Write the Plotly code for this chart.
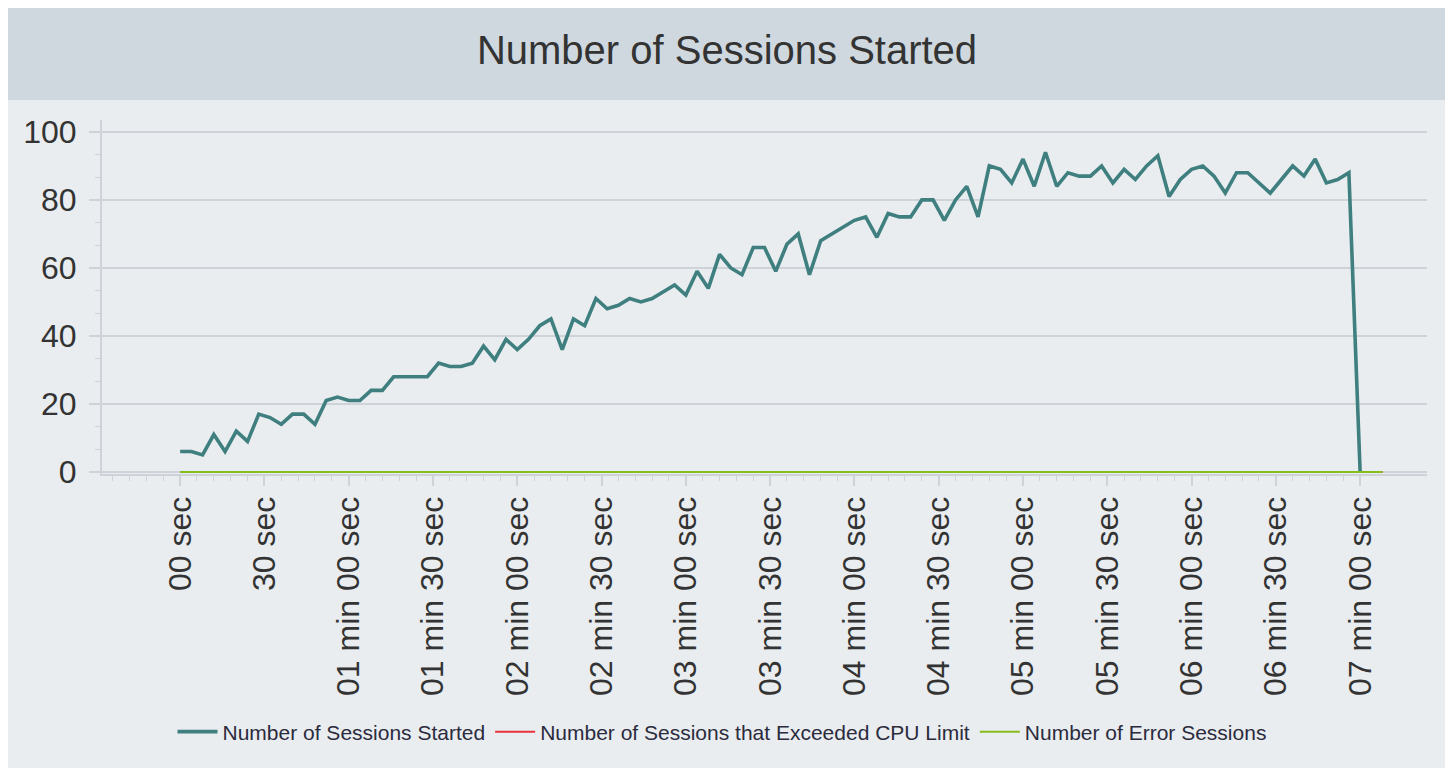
import plotly.graph_objects as go

# ---------------- data ----------------
time_sec = [0, 4, 8, 12, 16, 20, 24, 28, 32, 36, 40, 44, 48, 52, 56, 60, 64, 68, 72, 76,
            80, 84, 88, 92, 96, 100, 104, 108, 112, 116, 120, 124, 128, 132, 136, 140, 144, 148, 152, 156,
            160, 164, 168, 172, 176, 180, 184, 188, 192, 196, 200, 204, 208, 212, 216, 220, 224, 228, 232, 236,
            240, 244, 248, 252, 256, 260, 264, 268, 272, 276, 280, 284, 288, 292, 296, 300, 304, 308, 312, 316,
            320, 324, 328, 332, 336, 340, 344, 348, 352, 356, 360, 364, 368, 372, 376, 380, 384, 388, 392, 396,
            400, 404, 408, 412, 416, 420]

sessions_started = [6, 6, 5, 11, 6, 12, 9, 17, 16, 14, 17, 17, 14, 21, 22, 21, 21, 24, 24, 28,
                    28, 28, 28, 32, 31, 31, 32, 37, 33, 39, 36, 39, 43, 45, 36, 45, 43, 51, 48, 49,
                    51, 50, 51, 53, 55, 52, 59, 54, 64, 60, 58, 66, 66, 59, 67, 70, 58, 68, 70, 72,
                    74, 75, 69, 76, 75, 75, 80, 80, 74, 80, 84, 75, 90, 89, 85, 92, 84, 94, 84, 88,
                    87, 87, 90, 85, 89, 86, 90, 93, 81, 86, 89, 90, 87, 82, 88, 88, 85, 82, 86, 90,
                    87, 92, 85, 86, 88, 0]

other_time_sec = [0, 4, 8, 12, 16, 20, 24, 28, 32, 36, 40, 44, 48, 52, 56, 60, 64, 68, 72, 76,
                  80, 84, 88, 92, 96, 100, 104, 108, 112, 116, 120, 124, 128, 132, 136, 140, 144, 148, 152, 156,
                  160, 164, 168, 172, 176, 180, 184, 188, 192, 196, 200, 204, 208, 212, 216, 220, 224, 228, 232, 236,
                  240, 244, 248, 252, 256, 260, 264, 268, 272, 276, 280, 284, 288, 292, 296, 300, 304, 308, 312, 316,
                  320, 324, 328, 332, 336, 340, 344, 348, 352, 356, 360, 364, 368, 372, 376, 380, 384, 388, 392, 396,
                  400, 404, 408, 412, 416, 420, 424, 428]

cpu_exceeded = [0, 0, 0, 0, 0, 0, 0, 0, 0, 0, 0, 0, 0, 0, 0, 0, 0, 0, 0, 0,
                0, 0, 0, 0, 0, 0, 0, 0, 0, 0, 0, 0, 0, 0, 0, 0, 0, 0, 0, 0,
                0, 0, 0, 0, 0, 0, 0, 0, 0, 0, 0, 0, 0, 0, 0, 0, 0, 0, 0, 0,
                0, 0, 0, 0, 0, 0, 0, 0, 0, 0, 0, 0, 0, 0, 0, 0, 0, 0, 0, 0,
                0, 0, 0, 0, 0, 0, 0, 0, 0, 0, 0, 0, 0, 0, 0, 0, 0, 0, 0, 0,
                0, 0, 0, 0, 0, 0, 0, 0]

error_sessions = [0, 0, 0, 0, 0, 0, 0, 0, 0, 0, 0, 0, 0, 0, 0, 0, 0, 0, 0, 0,
                  0, 0, 0, 0, 0, 0, 0, 0, 0, 0, 0, 0, 0, 0, 0, 0, 0, 0, 0, 0,
                  0, 0, 0, 0, 0, 0, 0, 0, 0, 0, 0, 0, 0, 0, 0, 0, 0, 0, 0, 0,
                  0, 0, 0, 0, 0, 0, 0, 0, 0, 0, 0, 0, 0, 0, 0, 0, 0, 0, 0, 0,
                  0, 0, 0, 0, 0, 0, 0, 0, 0, 0, 0, 0, 0, 0, 0, 0, 0, 0, 0, 0,
                  0, 0, 0, 0, 0, 0, 0, 0]

tick_values = [0, 30, 60, 90, 120, 150, 180, 210, 240, 270, 300, 330, 360, 390, 420]
tick_labels = ["00 sec", "30 sec", "01 min 00 sec", "01 min 30 sec", "02 min 00 sec",
               "02 min 30 sec", "03 min 00 sec", "03 min 30 sec", "04 min 00 sec",
               "04 min 30 sec", "05 min 00 sec", "05 min 30 sec", "06 min 00 sec",
               "06 min 30 sec", "07 min 00 sec"]
minor_tick_values = [-24, -18, -12, -6, 0, 6, 12, 18, 24, 30, 36, 42, 48, 54, 60, 66, 72, 78, 84, 90,
                     96, 102, 108, 114, 120, 126, 132, 138, 144, 150, 156, 162, 168, 174, 180, 186,
                     192, 198, 204, 210, 216, 222, 228, 234, 240, 246, 252, 258, 264, 270, 276, 282,
                     288, 294, 300, 306, 312, 318, 324, 330, 336, 342, 348, 354, 360, 366, 372, 378,
                     384, 390, 396, 402, 408, 414, 420]
y_tick_values = [0, 20, 40, 60, 80, 100]

# ---------------- layout geometry ----------------
# The page body has an 8px margin, so the figure is drawn 8px right/down.
OFF = 8
W, H = 1453 - OFF, 768 - OFF
# plot-area edges in page pixels (reference), converted to figure pixels
PL, PR, PT, PB = 102 - OFF, 1427 - OFF, 120 - OFF, 474 - OFF


def px_x(p):  # page pixel -> paper x
    return (p - OFF - PL) / (PR - PL)


def px_y(p):  # page pixel -> paper y
    return (PB - (p - OFF)) / (PB - PT)


FONT = "Liberation Sans, Arial, Helvetica, sans-serif"
GRID = "#cdd3d8"

fig = go.Figure()
fig.add_trace(go.Scatter(x=time_sec, y=sessions_started, mode="lines",
                         name="Number of Sessions Started",
                         line=dict(color="#3f7f7f", width=3.6)))
fig.add_trace(go.Scatter(x=other_time_sec, y=cpu_exceeded, mode="lines",
                         name="Number of Sessions that Exceeded CPU Limit",
                         line=dict(color="#e8313a", width=2)))
fig.add_trace(go.Scatter(x=other_time_sec, y=error_sessions, mode="lines",
                         name="Number of Error Sessions",
                         line=dict(color="#86bc1c", width=2)))

shapes = [
    dict(type="rect", xref="paper", yref="paper", layer="below",
         x0=px_x(0), x1=px_x(1447), y0=px_y(768), y1=px_y(0),
         fillcolor="#e9edf0", line=dict(width=0)),
    dict(type="rect", xref="paper", yref="paper", layer="below",
         x0=px_x(0), x1=px_x(1447), y0=px_y(100), y1=px_y(0),
         fillcolor="#cfd8df", line=dict(width=0)),
]

fig.update_layout(
    width=W, height=H,
    margin=dict(l=PL, r=W - PR, t=PT, b=H - PB, pad=0, autoexpand=False),
    paper_bgcolor="#f6f7f8",
    plot_bgcolor="rgba(0,0,0,0)",
    shapes=shapes,
    title=dict(text="Number of Sessions Started", x=px_x(727), xanchor="center",
               xref="paper",
               y=1 - (50 - OFF) / H, yanchor="middle", yref="container",
               font=dict(family=FONT, size=40, color="#333333")),
    showlegend=True,
    legend=dict(orientation="h", x=px_x(722), xanchor="center",
                y=px_y(732), yanchor="middle",
                font=dict(family=FONT, size=21, color="#2b2b3d"),
                bgcolor="rgba(0,0,0,0)", itemwidth=40),
    font=dict(family=FONT, color="#333333"),
)

fig.update_xaxes(
    range=[-27.8, 443.8],
    automargin=False,
    tickmode="array", tickvals=tick_values, ticktext=tick_labels,
    tickangle=-90,
    tickfont=dict(family=FONT, size=32, color="#333333"),
    ticks="outside", ticklen=10, tickwidth=2, tickcolor=GRID,
    ticklabelstandoff=-2,
    showline=True, linecolor=GRID, linewidth=2,
    showgrid=False, zeroline=False,
    minor=dict(tickmode="array", tickvals=minor_tick_values, ticks="outside",
               ticklen=5, tickwidth=1, tickcolor=GRID, showgrid=False),
    layer="below traces",
)

fig.update_yaxes(
    range=[-0.6, 103.5],
    automargin=False,
    tickmode="array", tickvals=y_tick_values,
    tickfont=dict(family=FONT, size=32, color="#333333"),
    ticks="outside", ticklen=11, tickwidth=2, tickcolor=GRID,
    ticklabelstandoff=6,
    showline=True, linecolor=GRID, linewidth=2,
    showgrid=True, gridcolor=GRID, gridwidth=2,
    zeroline=False,
    minor=dict(dtick=20 / 3, tick0=0, ticks="outside", ticklen=5, tickwidth=1,
               tickcolor=GRID, showgrid=False),
    layer="below traces",
)

fig.write_html("out.html")
